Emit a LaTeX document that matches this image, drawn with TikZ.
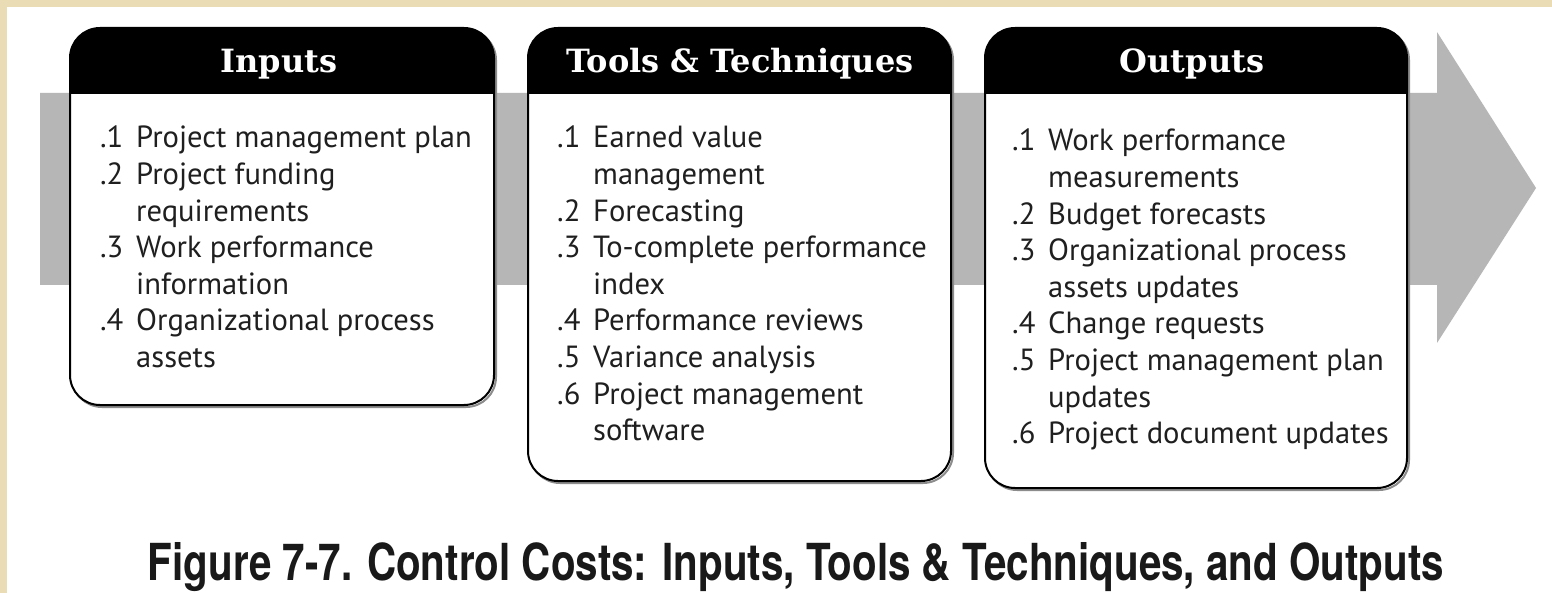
\documentclass[tikz,border=0pt]{standalone}
\usepackage{fontspec}
\usepackage{graphicx}
\setmainfont{PT Sans}
\newfontfamily\headfont{DejaVu Serif}
\newfontfamily\titlefont{TeX Gyre Heros}
\definecolor{tanbg}{HTML}{EADCB5}
\definecolor{bandgray}{HTML}{B6B6B6}
\tikzset{
  boxline/.style={draw=black, line width=2pt, rounded corners=30pt},
  boxshadow/.style={draw=black!45, line width=2pt, rounded corners=30pt},
  headtxt/.style={anchor=base, inner sep=0pt, text=white, font=\headfont\bfseries\fontsize{32}{32}\selectfont},
  itemtxt/.style={anchor=base west, inner sep=0pt, text=black!88, font=\fontsize{30.6}{36.6}\selectfont},
}
\newcommand{\itemtab}[1]{\begin{tabular}[t]{@{}p{36pt}@{}l@{}}#1\end{tabular}}
\begin{document}
\begin{tikzpicture}[x=1pt,y=-1pt]
\useasboundingbox (0,0) rectangle (1552,593);
\fill[tanbg] (0,0) rectangle (1552,593);
\fill[white] (7,7) rectangle (1552,593);
% gray arrow band
\fill[bandgray] (40,93) -- (1437,93) -- (1437,32) -- (1536,188) -- (1437,343) -- (1437,285) -- (40,285) -- cycle;
% Inputs box
\draw[boxshadow] (72,30) rectangle (496,407);
\begin{scope}
\clip[rounded corners=30pt] (70,28) rectangle (494,405);
\fill[white] (70,28) rectangle (494,405);
\fill[black] (70,28) rectangle (494,94);
\end{scope}
\draw[boxline] (70,28) rectangle (494,405);
% Tools box
\draw[boxshadow] (530,30) rectangle (953,483);
\begin{scope}
\clip[rounded corners=30pt] (528,28) rectangle (951,481);
\fill[white] (528,28) rectangle (951,481);
\fill[black] (528,28) rectangle (951,94);
\end{scope}
\draw[boxline] (528,28) rectangle (951,481);
% Outputs box
\draw[boxshadow] (987,30) rectangle (1409,490);
\begin{scope}
\clip[rounded corners=30pt] (985,28) rectangle (1407,488);
\fill[white] (985,28) rectangle (1407,488);
\fill[black] (985,28) rectangle (1407,94);
\end{scope}
\draw[boxline] (985,28) rectangle (1407,488);
% headers
\node[headtxt] (hin) at (279,73) {Inputs};
\node[headtxt] (htt) at (740,73) {Tools \& Techniques};
\node[headtxt] (hout) at (1192,73) {Outputs};
% items
\node[itemtxt] (iin) at (100,148) {\itemtab{%
.1 & Project management plan\\
.2 & Project funding\\
 & requirements\\
.3 & Work performance\\
 & information\\
.4 & Organizational process\\
 & assets}};
\node[itemtxt] (itt) at (557,148) {\itemtab{%
.1 & Earned value\\
 & management\\
.2 & Forecasting\\
.3 & To-complete performance\\
 & index\\
.4 & Performance reviews\\
.5 & Variance analysis\\
.6 & Project management\\
 & software}};
\node[itemtxt] (iout) at (1012,151) {\itemtab{%
.1 & Work performance\\
 & measurements\\
.2 & Budget forecasts\\
.3 & Organizational process\\
 & assets updates\\
.4 & Change requests\\
.5 & Project management plan\\
 & updates\\
.6 & Project document updates}};
% caption
\node[anchor=base, inner sep=0pt, text=black!90] (cap) at (796,580) {\resizebox{1296pt}{38pt}{\titlefont\bfseries Figure 7-7. Control Costs: Inputs, Tools \& Techniques, and Outputs}};
\end{tikzpicture}
\end{document}
